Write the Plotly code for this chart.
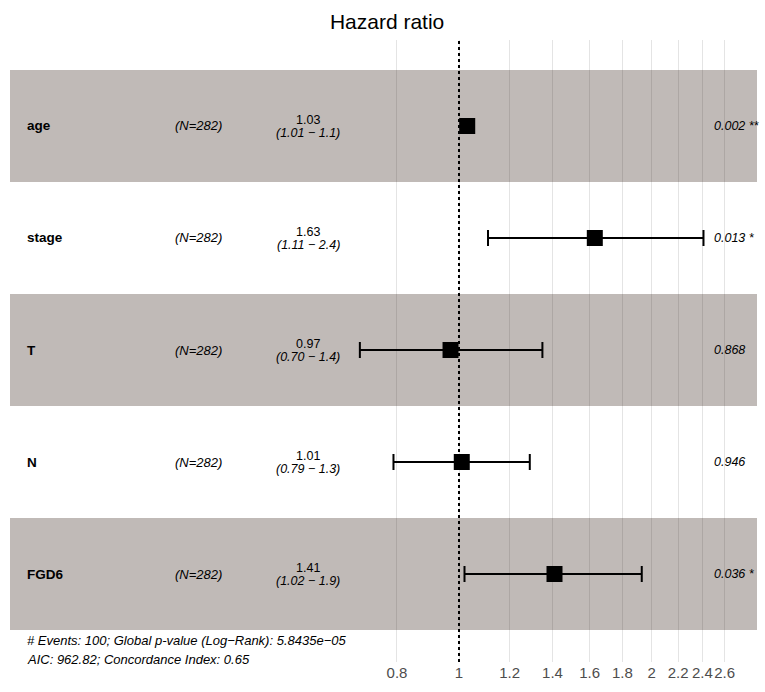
import plotly.graph_objects as go

variables = ["age", "stage", "T", "N", "FGD6"]
n_labels = ["(N=282)", "(N=282)", "(N=282)", "(N=282)", "(N=282)"]
hr = [1.03, 1.63, 0.97, 1.01, 1.41]
ci_low = [1.01, 1.11, 0.70, 0.79, 1.02]
ci_high = [1.05, 2.41, 1.35, 1.29, 1.93]
hr_text = ["1.03", "1.63", "0.97", "1.01", "1.41"]
ci_text = ["(1.01 − 1.1)", "(1.11 − 2.4)", "(0.70 − 1.4)", "(0.79 − 1.3)", "(1.02 − 1.9)"]
p_text = ["0.002 **", "0.013 *", "0.868", "0.946", "0.036 *"]
tick_vals = [0.8, 1, 1.2, 1.4, 1.6, 1.8, 2, 2.2, 2.4, 2.6]
tick_text = ["0.8", "1", "1.2", "1.4", "1.6", "1.8", "2", "2.2", "2.4", "2.6"]
footnote = ["# Events: 100; Global p-value (Log−Rank): 5.8435e−05",
            "AIC: 962.82; Concordance Index: 0.65"]

FONT = "Liberation Sans, Arial, sans-serif"
W, H = 765, 692
L, R = 10, 757              # pixel extents of plotting panel
TOP, BOT = 40, 662
ROW0, ROW_PX = 70, 112.0    # y of first row top, row height

def px(x):
    return (x - L) / (R - L)

def py(y):
    return 1 - (y - TOP) / (BOT - TOP)

ppd = 640.0  # pixels per log10 unit
x_left = -(459 - L) / ppd
x_right = (R - 459) / ppd

ys = list(range(len(variables)))

fig = go.Figure()
fig.add_trace(go.Scatter(
    x=hr, y=ys, mode="markers",
    marker=dict(symbol="square", size=16, color="black"),
    error_x=dict(type="data", symmetric=False,
                 array=[h - m for h, m in zip(ci_high, hr)],
                 arrayminus=[m - l for m, l in zip(hr, ci_low)],
                 color="black", thickness=2, width=8),
    showlegend=False, hoverinfo="skip"))

shapes = []
for i in ys:
    if i % 2 == 0:
        shapes.append(dict(type="rect", xref="x", yref="y",
                           x0=10 ** x_left, x1=10 ** x_right,
                           y0=i - 0.5, y1=i + 0.5, fillcolor="rgba(45,28,18,0.3)",
                           line=dict(width=0), layer="between"))
shapes.append(dict(type="line", xref="x", yref="paper", x0=1, x1=1, y0=0, y1=1,
                   line=dict(color="black", width=2, dash="dot"), layer="above"))

def txt(x, y, s, size=13, anchor="left"):
    return dict(x=x, y=y, xref="paper", yref="paper", text=s, showarrow=False,
                xanchor=anchor, yanchor="middle",
                font=dict(family=FONT, size=size, color="black"))

ann = []
for i in ys:
    yc = ROW0 + ROW_PX * (i + 0.5)
    ann.append(txt(px(25), py(yc), "<b>%s</b>" % variables[i], 13.5))
    ann.append(txt(px(198), py(yc), "<i>%s</i>" % n_labels[i], 13, "center"))
    ann.append(txt(px(308), py(yc - 6), hr_text[i], 12.5, "center"))
    ann.append(txt(px(308), py(yc + 6.5), "<i>%s</i>" % ci_text[i], 12.5, "center"))
    ann.append(txt(px(712), py(yc), "<i>%s</i>" % p_text[i], 12.5))
ann.append(txt(px(25), py(640), "<i>%s</i>" % footnote[0], 13))
ann.append(txt(px(25), py(659), "<i>%s</i>" % footnote[1], 13))

fig.update_layout(
    width=W, height=H,
    margin=dict(l=L, r=W - R, t=TOP, b=H - BOT, pad=0),
    paper_bgcolor="white", plot_bgcolor="white",
    title=dict(text="Hazard ratio", x=px(388), xanchor="center", y=1 - 22 / H,
               yanchor="middle", font=dict(family=FONT, size=21, color="black")),
    xaxis=dict(type="log", range=[x_left, x_right], tickvals=tick_vals, ticktext=tick_text,
               tickangle=0,
               showgrid=True, gridcolor="#E4E4E4", gridwidth=1, zeroline=False,
               showline=False, ticks="", tickfont=dict(family=FONT, size=15, color="#4D4D4D")),
    yaxis=dict(range=[4.5 + (BOT - 630) / ROW_PX, -0.5 - (ROW0 - TOP) / ROW_PX],
               showgrid=False, zeroline=False, showticklabels=False, showline=False),
    shapes=shapes, annotations=ann,
)
fig.write_html(
    "out.html",
    config={"displayModeBar": False},
    post_script="document.body.style.margin='0';document.body.style.overflow='hidden';",
)
